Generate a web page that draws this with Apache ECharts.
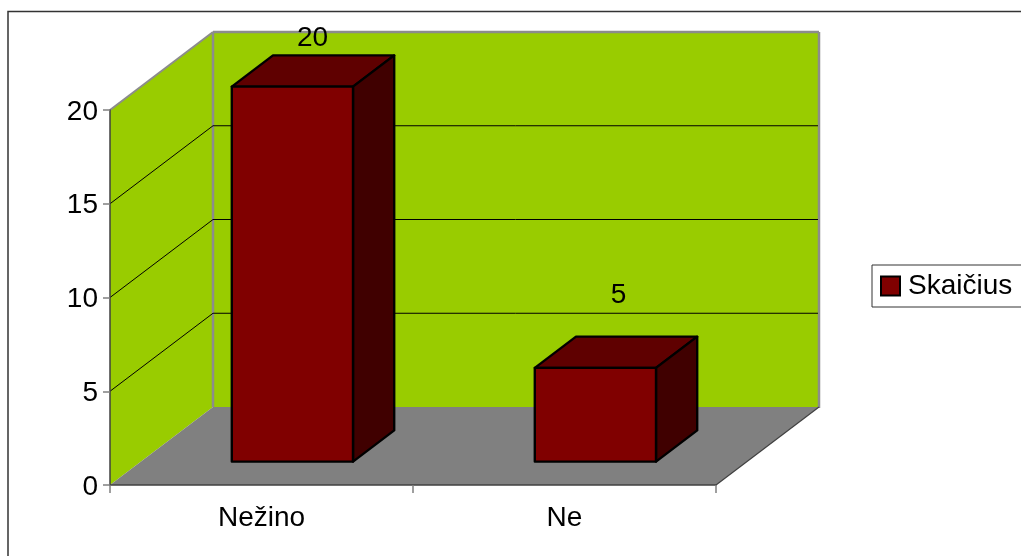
<!DOCTYPE html>
<html>
<head>
<meta charset="utf-8">
<style>html,body{margin:0;padding:0;background:#fff;overflow:hidden}#c{width:1021px;height:556px}</style>
<script src="https://cdn.jsdelivr.net/npm/echarts@6/dist/echarts.min.js"></script>
</head>
<body>
<div id="c"></div>
<script>
var categories = ['Nežino', 'Ne'];
var counts = [20, 5];
var seriesName = 'Skaičius';
var gridValues = [5, 10, 15];

var DEPTH_X = 103, DEPTH_Y = 78;          // projected depth of the chart box
var BAR_FRONT = 0.3, BAR_BACK = 0.7;      // where bars sit within that depth
var BAR_WIDTH = 0.4;                      // fraction of category band
var LABEL_LIFT = {20: 72, 5: 96};         // label height above the value's axis position
var LABEL_SHIFT = {20: -0.5, 5: 2.5};     // label sideways nudge
var FONT = '"Liberation Sans", Arial, sans-serif';
var FS = 28;

var chart = echarts.init(document.getElementById('c'), null, {renderer: 'canvas'});

function poly(points, fill, stroke, lw) {
  return {type: 'polygon', shape: {points: points},
    style: {fill: fill, stroke: stroke || null, lineWidth: lw || 0, lineJoin: 'round'}};
}
function line(a, b, color, lw) {
  return {type: 'line', shape: {x1: a[0], y1: a[1], x2: b[0], y2: b[1]},
    style: {stroke: color, lineWidth: lw, fill: null}};
}

function renderWalls(params, api) {
  var l = api.coord([0, 0])[0] - api.size([1, 0])[0] / 2;
  var r = l + api.size([1, 0])[0] * categories.length;
  var b = api.coord([0, 0])[1], t = api.coord([0, 20])[1];
  var bx = l + DEPTH_X, brx = r + DEPTH_X, by = b - DEPTH_Y, ty = t - DEPTH_Y;
  var gray = '#8c8c8c';
  return {type: 'group', children: [
    poly([[bx, ty], [brx, ty], [brx, by], [bx, by]], '#99cc00'),
    poly([[l, t], [bx, ty], [bx, by], [l, b]], '#99cc00'),
    poly([[l, b], [bx, by], [brx, by], [r, b]], '#808080'),
    line([bx, ty], [brx, ty], gray, 2.5),
    line([brx, ty], [brx, by + 1], gray, 2.5),
    line([bx, ty], [bx, by], gray, 2.5),
    line([l, t], [bx, ty], gray, 2),
    line([r, b], [brx, by], '#404040', 1.2)
  ]};
}

function renderGrid(params, api) {
  var l = api.coord([0, 0])[0] - api.size([1, 0])[0] / 2;
  var r = l + api.size([1, 0])[0] * categories.length;
  var y = api.coord([0, api.value(0)])[1];
  var a = [l, y], c = [l + DEPTH_X, y - DEPTH_Y], d = [r + DEPTH_X - 1, y - DEPTH_Y];
  return {type: 'group', children: [line(a, c, '#000', 1), line(c, d, '#000', 1)]};
}

function renderBar(params, api) {
  var base = api.coord([api.value(0), 0]);
  var top = api.coord([api.value(0), api.value(1)]);
  var w = api.size([1, 0])[0] * BAR_WIDTH;
  var fx = base[0] + DEPTH_X * BAR_FRONT - w / 2, fy = DEPTH_Y * BAR_FRONT;
  var sx = DEPTH_X * (BAR_BACK - BAR_FRONT), sy = DEPTH_Y * (BAR_BACK - BAR_FRONT);
  var x0 = fx, x1 = fx + w, y0 = top[1] - fy, y1 = base[1] - fy;
  var black = '#000', lw = 2.4;
  var v = api.value(1);
  return {type: 'group', children: [
    poly([[x0, y0], [x1, y0], [x1 + sx, y0 - sy], [x0 + sx, y0 - sy]], '#5f0000', black, lw),
    poly([[x1, y0], [x1 + sx, y0 - sy], [x1 + sx, y1 - sy], [x1, y1]], '#400000', black, lw),
    poly([[x0, y0], [x1, y0], [x1, y1], [x0, y1]], '#800000', black, lw),
    {type: 'text', style: {
      text: String(v), x: x0 + w / 2 + sx / 2 + LABEL_SHIFT[v], y: top[1] - LABEL_LIFT[v],
      align: 'center', verticalAlign: 'middle', fill: '#000', font: FS + 'px ' + FONT}}
  ]};
}

chart.setOption({
  animation: false,
  backgroundColor: '#fff',
  graphic: [{type: 'rect', z: -1, silent: true,
    shape: {x: 8, y: 11.5, width: 1100, height: 700},
    style: {fill: '#fff', stroke: '#333', lineWidth: 1.5}}],
  grid: {left: 110, top: 110, width: 606, height: 375, containLabel: false},
  legend: {
    left: 872, top: 265, orient: 'horizontal',
    padding: [7, 30, 7, 8],
    backgroundColor: '#fff', borderColor: '#333', borderWidth: 1, borderRadius: 0,
    itemWidth: 19, itemHeight: 19, itemGap: 0,
    icon: 'rect', selectedMode: false,
    itemStyle: {color: '#800000', borderColor: '#000', borderWidth: 2},
    textStyle: {fontFamily: FONT, fontSize: FS, color: '#000', padding: [5, 0, 0, 3]},
    data: [seriesName]
  },
  xAxis: {
    type: 'category', data: categories, z: 6,
    axisLine: {lineStyle: {color: '#404040', width: 1.5}},
    axisTick: {show: true, length: 8, alignWithLabel: false, lineStyle: {color: '#808080', width: 1.5}},
    axisLabel: {fontFamily: FONT, fontSize: FS, color: '#000', margin: 19, interval: 0},
    splitLine: {show: false}
  },
  yAxis: {
    type: 'value', min: 0, max: 20, interval: 5, z: 6,
    axisLine: {show: true, lineStyle: {color: '#404040', width: 1.5}},
    axisTick: {show: true, length: 7, lineStyle: {color: '#808080', width: 1.5}},
    axisLabel: {fontFamily: FONT, fontSize: FS, color: '#000', margin: 12, verticalAlign: 'top', lineHeight: 4, verticalAlignMinLabel: 'top', verticalAlignMaxLabel: 'top'},
    splitLine: {show: false}
  },
  series: [
    {type: 'custom', silent: true, renderItem: renderWalls, data: [[0]], z: 1, encode: {x: -1, y: -1}},
    {type: 'custom', silent: true, renderItem: renderGrid, data: gridValues.map(function (v) { return [v]; }), z: 2, encode: {x: -1, y: 0}},
    {type: 'custom', name: seriesName, silent: true, renderItem: renderBar, z: 3,
      itemStyle: {color: '#800000'},
      encode: {x: 0, y: 1},
      data: categories.map(function (c, i) { return [i, counts[i]]; })}
  ]
});
</script>
</body>
</html>
